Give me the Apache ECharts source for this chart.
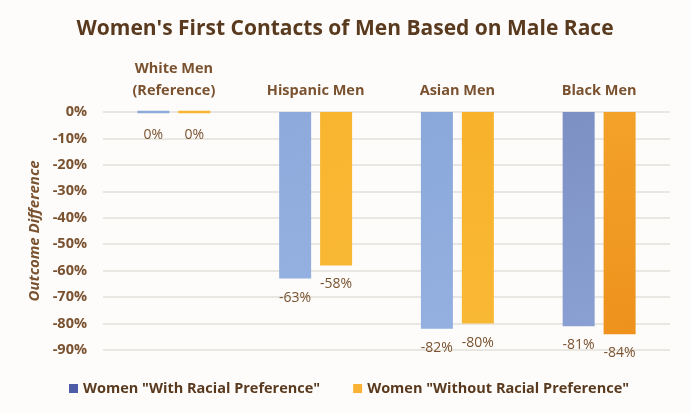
<!DOCTYPE html>
<html>
<head>
<meta charset="utf-8">
<script src="https://cdn.jsdelivr.net/npm/echarts@6/dist/echarts.min.js"></script>
<style>
  html, body { margin: 0; padding: 0; background: #fdfcfa; }
  #chart { width: 690px; height: 414px; }
</style>
</head>
<body>
<div id="chart"></div>
<script>
var categories = ['White Men\n(Reference)', 'Hispanic Men', 'Asian Men', 'Black Men'];
var withPref = [0, -63, -82, -81];
var withoutPref = [0, -58, -80, -84];
var yTicks = { min: -90, max: 0, step: 10 };

var brown = '#7a5230';
var dark = '#5a3a1e';
var font = '"Open Sans", sans-serif';

function barColor(a, b) {
  return new echarts.graphic.LinearGradient(0, 0, 1, 1, [
    { offset: 0, color: a },
    { offset: 1, color: b }
  ]);
}

var blueCols = ['#8eaadc', '#8eaadc', '#8ba8db', '#7d90c4'];
var blueCols2 = ['#94b0e0', '#94b0e0', '#93b0e0', '#8aa0d2'];
var orangeCols = ['#f8b530', '#f8b530', '#f8b22c', '#f3a229'];
var orangeCols2 = ['#f9b834', '#f9b834', '#f9b834', '#ee921c'];

var chart = echarts.init(document.getElementById('chart'));

function labelCfg() {
  return {
    show: true,
    position: 'bottom',
    distance: 12,
    color: brown,
    fontFamily: font,
    fontSize: 14,
    formatter: function (p) { return p.value + '%'; }
  };
}

// zero values are drawn as a thin line under the axis
function items(vals, c1, c2) {
  return vals.map(function (v, i) {
    var it = { value: v, itemStyle: { color: barColor(c1[i], c2[i]) } };
    if (v === 0) {
      it.itemStyle.borderColor = c1[i];
      it.itemStyle.borderWidth = 2.5;
      it.label = { distance: 15 };
    }
    return it;
  });
}

var option = {
  backgroundColor: '#fdfcfa',
  title: {
    text: "Women's First Contacts of Men Based on Male Race",
    left: 'center',
    top: 14,
    textStyle: { color: dark, fontFamily: font, fontWeight: 'bold', fontSize: 21 }
  },
  legend: {
    left: 64,
    top: 376,
    itemWidth: 9,
    itemHeight: 9,
    itemGap: 33,
    icon: 'rect',
    textStyle: { color: dark, fontFamily: font, fontWeight: 'bold', fontSize: 14.5 },
    data: [
      { name: 'Women "With Racial Preference"', itemStyle: { color: '#4e5ba6' } },
      { name: 'Women "Without Racial Preference"', itemStyle: { color: '#f9b233' } }
    ]
  },
  grid: { left: 103, right: 20, top: 112, bottom: 64 },
  xAxis: {
    type: 'category',
    position: 'top',
    data: categories,
    axisLine: { show: false },
    axisTick: { show: false },
    axisLabel: {
      color: brown,
      fontFamily: font,
      fontWeight: 'bold',
      fontSize: 14.5,
      lineHeight: 22,
      margin: 10
    }
  },
  yAxis: {
    type: 'value',
    min: yTicks.min,
    max: yTicks.max,
    interval: yTicks.step,
    name: 'Outcome Difference',
    nameLocation: 'middle',
    nameGap: 58,
    nameTextStyle: { color: brown, fontFamily: font, fontWeight: 'bold', fontStyle: 'italic', fontSize: 15 },
    axisLine: { show: false },
    axisTick: { show: false },
    axisLabel: {
      color: brown,
      fontFamily: font,
      fontWeight: 'bold',
      fontSize: 14.5,
      margin: 16,
      formatter: '{value}%'
    },
    splitLine: { lineStyle: { color: '#e2e0d8', width: 1.5 } }
  },
  series: [
    {
      name: 'Women "With Racial Preference"',
      type: 'bar',
      barWidth: 32,
      barGap: '28%',
      data: items(withPref, blueCols, blueCols2),
      label: labelCfg()
    },
    {
      name: 'Women "Without Racial Preference"',
      type: 'bar',
      barWidth: 32,
      barGap: '28%',
      data: items(withoutPref, orangeCols, orangeCols2),
      label: labelCfg()
    }
  ]
};

option && chart.setOption(option);
window.addEventListener('resize', function () {
  chart.resize();
});
</script>
</body>
</html>
